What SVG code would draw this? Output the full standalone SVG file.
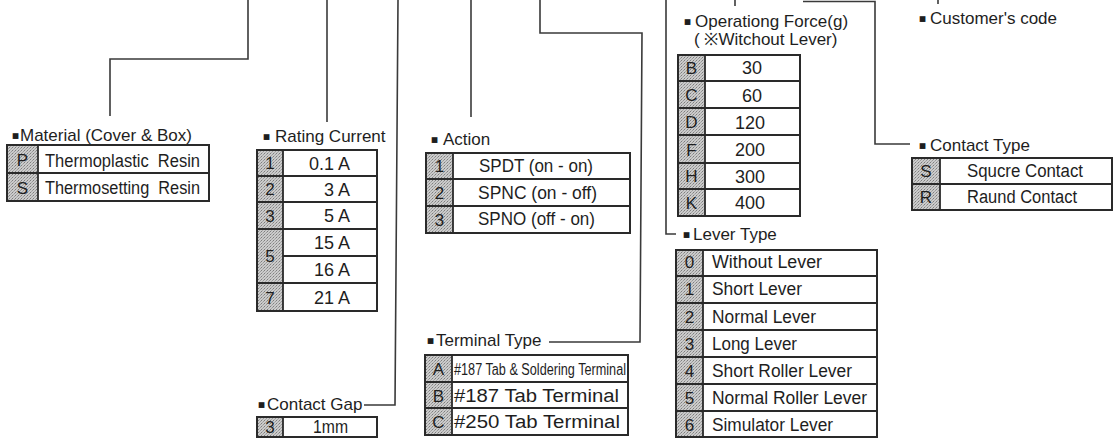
<svg xmlns="http://www.w3.org/2000/svg" width="1114" height="438" viewBox="0 0 1114 438">
<defs>
<pattern id="st" width="3" height="3" patternUnits="userSpaceOnUse">
<rect width="3" height="3" fill="#cbcbcb"/>
<rect x="0" y="0" width="1" height="1" fill="#7e7e7e"/>
<rect x="2" y="1" width="1" height="1" fill="#9a9a9a"/>
<rect x="1" y="2" width="1" height="1" fill="#a8a8a8"/>
</pattern>
<style>
.ln{fill:none;stroke:#3a3a3a;stroke-width:1.6}
.box{fill:none;stroke:#2a2a2a;stroke-width:2}
.grid{stroke:#2a2a2a;stroke-width:1.8}
.code{fill:url(#st);stroke:none}
text{font-family:"Liberation Sans",Arial,sans-serif;fill:#1e1e1e}
.h{font-size:17px}
.t{font-size:18px}
.m{font-size:18px;text-anchor:middle}
.e{font-size:18px;text-anchor:end}
.c{font-size:17px;text-anchor:middle;fill:#1e1e1e}
.b{font-family:"DejaVu Sans",sans-serif;font-size:7.5px}
</style>
</defs>
<rect width="1114" height="438" fill="#ffffff"/>

<g id="connectors">
<path class="ln" d="M248,0 V59 H110 V116"/>
<path class="ln" d="M327,0 V122"/>
<path class="ln" d="M398,0 L395,405 H364"/>
<path class="ln" d="M471,0 V117"/>
<path class="ln" d="M540,0 V33 H642 L640,342 H549"/>
<path class="ln" d="M666,0 V234 H676"/>
<path class="ln" d="M735,0 V6"/>
<path class="ln" d="M803,1.5 H875 V144 H910"/>
<path class="ln" d="M938,0 V4"/>
</g>

<g id="material">
<text class="h" y="141"><tspan class="b" x="12" dy="-3.5">■</tspan><tspan x="20" dy="3.5">Material (Cover &amp; Box)</tspan></text>
<rect class="code" x="7" y="145" width="31" height="56"/>
<rect class="box" x="7" y="145" width="202" height="56"/>
<line class="grid" x1="7" y1="173" x2="209" y2="173"/>
<line class="grid" x1="38" y1="145" x2="38" y2="201"/>
<text class="c" x="22.5" y="166">P</text>
<text class="c" x="22.5" y="194">S</text>
<text class="t" x="45" y="167" textLength="155" lengthAdjust="spacingAndGlyphs" xml:space="preserve">Thermoplastic  Resin</text>
<text class="t" x="45" y="194" textLength="155" lengthAdjust="spacingAndGlyphs" xml:space="preserve">Thermosetting  Resin</text>
</g>

<g id="rating-current">
<text class="h" y="142"><tspan class="b" x="263" dy="-3.5">■</tspan><tspan x="275" dy="3.5">Rating Current</tspan></text>
<rect class="code" x="257" y="150" width="26" height="161"/>
<rect class="box" x="257" y="150" width="120" height="161"/>
<line class="grid" x1="257" y1="176" x2="377" y2="176"/>
<line class="grid" x1="257" y1="202" x2="377" y2="202"/>
<line class="grid" x1="257" y1="229" x2="377" y2="229"/>
<line class="grid" x1="283" y1="256" x2="377" y2="256"/>
<line class="grid" x1="257" y1="283" x2="377" y2="283"/>
<line class="grid" x1="283" y1="150" x2="283" y2="311"/>
<text class="c" x="270" y="169">1</text>
<text class="c" x="270" y="195">2</text>
<text class="c" x="270" y="222">3</text>
<text class="c" x="270" y="262">5</text>
<text class="c" x="270" y="304">7</text>
<text class="e" x="350" y="169.5">0.1 A</text>
<text class="e" x="350" y="195.5">3 A</text>
<text class="e" x="350" y="222">5 A</text>
<text class="e" x="350" y="249">15 A</text>
<text class="e" x="350" y="276">16 A</text>
<text class="e" x="350" y="304">21 A</text>
</g>

<g id="action">
<text class="h" y="145"><tspan class="b" x="431" dy="-3.5">■</tspan><tspan x="443" dy="3.5">Action</tspan></text>
<rect class="code" x="426" y="153" width="27" height="80"/>
<rect class="box" x="426" y="153" width="204" height="80"/>
<line class="grid" x1="426" y1="179" x2="630" y2="179"/>
<line class="grid" x1="426" y1="206" x2="630" y2="206"/>
<line class="grid" x1="453" y1="153" x2="453" y2="233"/>
<text class="c" x="439.5" y="172">1</text>
<text class="c" x="439.5" y="199">2</text>
<text class="c" x="439.5" y="226">3</text>
<text class="t" x="479" y="172" textLength="114" lengthAdjust="spacingAndGlyphs">SPDT (on - on)</text>
<text class="t" x="478" y="198.5" textLength="119" lengthAdjust="spacingAndGlyphs">SPNC (on - off)</text>
<text class="t" x="478" y="225" textLength="117" lengthAdjust="spacingAndGlyphs">SPNO (off - on)</text>
</g>

<g id="contact-gap">
<text class="h" y="410"><tspan class="b" x="258" dy="-3.5">■</tspan><tspan x="267" dy="3.5">Contact Gap</tspan></text>
<rect class="code" x="257" y="417" width="26" height="20"/>
<rect class="box" x="257" y="417" width="120" height="20"/>
<line class="grid" x1="283" y1="417" x2="283" y2="437"/>
<text class="c" x="270" y="433">3</text>
<text class="t" x="313" y="433" textLength="35" lengthAdjust="spacingAndGlyphs">1mm</text>
</g>

<g id="terminal-type">
<text class="h" y="346"><tspan class="b" x="427" dy="-3.5">■</tspan><tspan x="436" dy="3.5">Terminal Type</tspan></text>
<rect class="code" x="425" y="355" width="27" height="80"/>
<rect class="box" x="425" y="355" width="203" height="80"/>
<line class="grid" x1="425" y1="382" x2="628" y2="382"/>
<line class="grid" x1="425" y1="408" x2="628" y2="408"/>
<line class="grid" x1="452" y1="355" x2="452" y2="435"/>
<text class="c" x="438.5" y="375">A</text>
<text class="c" x="438.5" y="402">B</text>
<text class="c" x="438.5" y="428">C</text>
<text class="t" x="454" y="375" style="font-size:16px" textLength="172" lengthAdjust="spacingAndGlyphs">#187 Tab &amp; Soldering Terminal</text>
<text class="t" x="454" y="402" textLength="165" lengthAdjust="spacingAndGlyphs">#187 Tab Terminal</text>
<text class="t" x="454" y="428" textLength="166" lengthAdjust="spacingAndGlyphs">#250 Tab Terminal</text>
</g>

<g id="operating-force">
<text class="h" y="27"><tspan class="b" x="684" dy="-3.5">■</tspan><tspan x="695" dy="3.5">Operationg Force(g)</tspan></text>
<text class="h" x="694" y="45">( ※Witchout Lever)</text>
<rect class="code" x="678" y="55" width="27" height="161"/>
<rect class="box" x="678" y="55" width="122" height="161"/>
<line class="grid" x1="678" y1="81" x2="800" y2="81"/>
<line class="grid" x1="678" y1="108" x2="800" y2="108"/>
<line class="grid" x1="678" y1="135" x2="800" y2="135"/>
<line class="grid" x1="678" y1="163" x2="800" y2="163"/>
<line class="grid" x1="678" y1="189" x2="800" y2="189"/>
<line class="grid" x1="705" y1="55" x2="705" y2="216"/>
<text class="c" x="691.5" y="74">B</text>
<text class="c" x="691.5" y="101">C</text>
<text class="c" x="691.5" y="128">D</text>
<text class="c" x="691.5" y="156">F</text>
<text class="c" x="691.5" y="182">H</text>
<text class="c" x="691.5" y="209">K</text>
<text class="m" x="752" y="74">30</text>
<text class="m" x="752" y="101.5">60</text>
<text class="m" x="750" y="128.5">120</text>
<text class="m" x="750" y="156">200</text>
<text class="m" x="750" y="182.5">300</text>
<text class="m" x="750" y="209">400</text>
</g>

<g id="lever-type">
<text class="h" y="240"><tspan class="b" x="683" dy="-3.5">■</tspan><tspan x="693" dy="3.5">Lever Type</tspan></text>
<rect class="code" x="676" y="250" width="27" height="187"/>
<rect class="box" x="676" y="250" width="201" height="187"/>
<line class="grid" x1="676" y1="276" x2="877" y2="276"/>
<line class="grid" x1="676" y1="303" x2="877" y2="303"/>
<line class="grid" x1="676" y1="330" x2="877" y2="330"/>
<line class="grid" x1="676" y1="357" x2="877" y2="357"/>
<line class="grid" x1="676" y1="384" x2="877" y2="384"/>
<line class="grid" x1="676" y1="411" x2="877" y2="411"/>
<line class="grid" x1="703" y1="250" x2="703" y2="437"/>
<text class="c" x="689.5" y="268">0</text>
<text class="c" x="689.5" y="295">1</text>
<text class="c" x="689.5" y="322.5">2</text>
<text class="c" x="689.5" y="349.5">3</text>
<text class="c" x="689.5" y="377">4</text>
<text class="c" x="689.5" y="404">5</text>
<text class="c" x="689.5" y="431">6</text>
<text class="t" x="712" y="268.3" textLength="110" lengthAdjust="spacingAndGlyphs">Without Lever</text>
<text class="t" x="712" y="295" textLength="90" lengthAdjust="spacingAndGlyphs">Short Lever</text>
<text class="t" x="712" y="322.7" textLength="104" lengthAdjust="spacingAndGlyphs">Normal Lever</text>
<text class="t" x="712" y="349.5" textLength="85" lengthAdjust="spacingAndGlyphs">Long Lever</text>
<text class="t" x="712" y="377.3" textLength="140" lengthAdjust="spacingAndGlyphs">Short Roller Lever</text>
<text class="t" x="712" y="404" textLength="155" lengthAdjust="spacingAndGlyphs">Normal Roller Lever</text>
<text class="t" x="712" y="431" textLength="121" lengthAdjust="spacingAndGlyphs">Simulator Lever</text>
</g>

<g id="contact-type">
<text class="h" y="151"><tspan class="b" x="919" dy="-3.5">■</tspan><tspan x="930" dy="3.5">Contact Type</tspan></text>
<rect class="code" x="912" y="158" width="28" height="52"/>
<rect class="box" x="912" y="158" width="200" height="52"/>
<line class="grid" x1="912" y1="184" x2="1112" y2="184"/>
<line class="grid" x1="940" y1="158" x2="940" y2="210"/>
<text class="c" x="926" y="177">S</text>
<text class="c" x="926" y="203">R</text>
<text class="t" x="967" y="177" textLength="116" lengthAdjust="spacingAndGlyphs">Squcre Contact</text>
<text class="t" x="967" y="203" textLength="110" lengthAdjust="spacingAndGlyphs">Raund Contact</text>
</g>

<g id="customers-code">
<text class="h" y="24"><tspan class="b" x="919" dy="-3.5">■</tspan><tspan x="930" dy="3.5">Customer's code</tspan></text>
</g>
</svg>
